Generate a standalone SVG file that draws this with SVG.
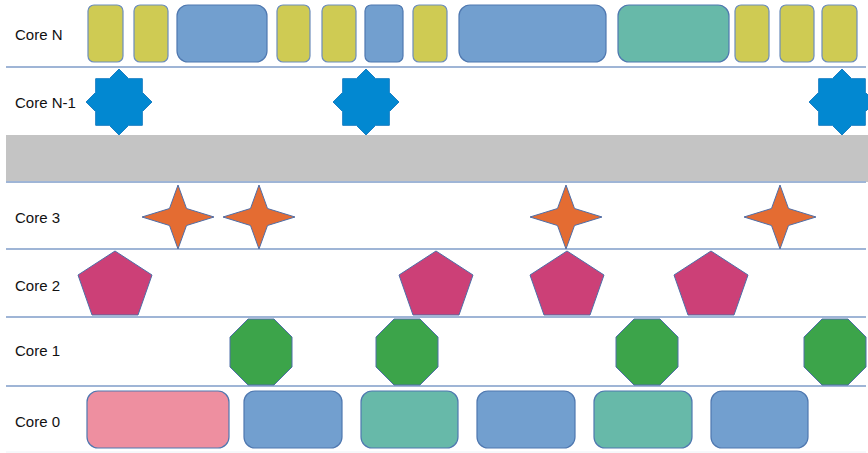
<svg xmlns="http://www.w3.org/2000/svg" xmlns:xlink="http://www.w3.org/1999/xlink" width="868" height="453" viewBox="0 0 868 453">
<style>
.lbl{font-family:"Liberation Sans",Arial,sans-serif;font-size:15px;fill:#111}
.sep{stroke:#9fb5d6;stroke-width:2;fill:none}
.y{fill:#cfcb53;stroke:#6d8dbb;stroke-width:1.2}
.b{fill:#729fcf;stroke:#4f78b0;stroke-width:1.2}
.t{fill:#67b9a9;stroke:#4f78b0;stroke-width:1.2}
.p{fill:#ee8fa0;stroke:#4f78b0;stroke-width:1.2}
.s8{fill:#0288d1;stroke:#1a7fc4;stroke-width:1}
.s4{fill:#e46c32;stroke:#4f6ea8;stroke-width:1}
.pg{fill:#cc4077;stroke:#4f6ea8;stroke-width:1}
.oc{fill:#3ca44a;stroke:#4f6ea8;stroke-width:1}
</style>
<defs>
<path id="star8" d="M0,-33 L9.66,-23.33 L23.33,-23.33 L23.33,-9.66 L33,0 L23.33,9.66 L23.33,23.33 L9.66,23.33 L0,33 L-9.66,23.33 L-23.33,23.33 L-23.33,9.66 L-33,0 L-23.33,-9.66 L-23.33,-23.33 L-9.66,-23.33 Z"/>
<path id="star4" d="M0,-32 L8.5,-8.5 L36,0 L8.5,8.5 L0,32 L-8.5,8.5 L-36,0 L-8.5,-8.5 Z"/>
<path id="penta" d="M0,0 L37,24 L23,64 L-23,64 L-37,24 Z"/>
<path id="octa" d="M-13,-33 L13,-33 L31,-15 L31,15 L13,33 L-13,33 L-31,15 L-31,-15 Z"/>
</defs>
<rect x="0" y="0" width="868" height="453" fill="#fff"/>
<rect x="6" y="135" width="862" height="47" fill="#c4c4c4"/>
<g id="separators">
<line class="sep" x1="6" y1="67" x2="866" y2="67"/>
<line class="sep" x1="6" y1="182" x2="866" y2="182"/>
<line class="sep" x1="6" y1="249" x2="866" y2="249"/>
<line class="sep" x1="6" y1="317" x2="866" y2="317"/>
<line class="sep" x1="6" y1="386" x2="866" y2="386"/>
<line x1="6" y1="452" x2="866" y2="452" stroke="#eef1f6" stroke-width="1"/>
</g>
<g id="labels">
<text class="lbl" x="15" y="40">Core N</text>
<text class="lbl" x="15" y="108">Core N-1</text>
<text class="lbl" x="15" y="223">Core 3</text>
<text class="lbl" x="15" y="291">Core 2</text>
<text class="lbl" x="15" y="356">Core 1</text>
<text class="lbl" x="15" y="427">Core 0</text>
</g>
<g id="coreN">
<rect id="n1" class="y" x="88" y="5" width="35" height="57" rx="6"/>
<rect id="n2" class="y" x="134" y="5" width="34" height="57" rx="6"/>
<rect id="n3" class="b" x="177" y="5" width="90" height="57" rx="11"/>
<rect id="n4" class="y" x="277" y="5" width="33" height="57" rx="6"/>
<rect id="n5" class="y" x="322" y="5" width="34" height="57" rx="6"/>
<rect id="n6" class="b" x="365" y="5" width="38" height="57" rx="6"/>
<rect id="n7" class="y" x="413" y="5" width="34" height="57" rx="6"/>
<rect id="n8" class="b" x="459" y="5" width="147" height="57" rx="11"/>
<rect id="n9" class="t" x="618" y="5" width="111" height="57" rx="11"/>
<rect id="n10" class="y" x="735" y="5" width="34" height="57" rx="6"/>
<rect id="n11" class="y" x="780" y="5" width="34" height="57" rx="6"/>
<rect id="n12" class="y" x="822" y="5" width="35" height="57" rx="6"/>
</g>
<g id="coreN1">
<g id="s8a"><use xlink:href="#star8" class="s8" transform="translate(119,102)"/></g>
<g id="s8b"><use xlink:href="#star8" class="s8" transform="translate(366,102)"/></g>
<g id="s8c"><use xlink:href="#star8" class="s8" transform="translate(842,102)"/></g>
</g>
<g id="core3">
<g id="s4a"><use xlink:href="#star4" class="s4" transform="translate(178,217)"/></g>
<g id="s4b"><use xlink:href="#star4" class="s4" transform="translate(259,217)"/></g>
<g id="s4c"><use xlink:href="#star4" class="s4" transform="translate(566,217)"/></g>
<g id="s4d"><use xlink:href="#star4" class="s4" transform="translate(780,217)"/></g>
</g>
<g id="core2">
<g id="pa"><use xlink:href="#penta" class="pg" transform="translate(115,251)"/></g>
<g id="pb"><use xlink:href="#penta" class="pg" transform="translate(436,251)"/></g>
<g id="pc"><use xlink:href="#penta" class="pg" transform="translate(567,251)"/></g>
<g id="pd"><use xlink:href="#penta" class="pg" transform="translate(711,251)"/></g>
</g>
<g id="core1">
<g id="oa"><use xlink:href="#octa" class="oc" transform="translate(261,352)"/></g>
<g id="ob"><use xlink:href="#octa" class="oc" transform="translate(407,352)"/></g>
<g id="oc"><use xlink:href="#octa" class="oc" transform="translate(647,352)"/></g>
<g id="od"><use xlink:href="#octa" class="oc" transform="translate(835,352)"/></g>
</g>
<g id="core0">
<rect id="c0a" class="p" x="87" y="391" width="142" height="57" rx="11"/>
<rect id="c0b" class="b" x="244" y="391" width="98" height="57" rx="11"/>
<rect id="c0c" class="t" x="361" y="391" width="97" height="57" rx="11"/>
<rect id="c0d" class="b" x="477" y="391" width="98" height="57" rx="11"/>
<rect id="c0e" class="t" x="594" y="391" width="98" height="57" rx="11"/>
<rect id="c0f" class="b" x="711" y="391" width="97" height="57" rx="11"/>
</g>
<g id="connectors"/>
</svg>
